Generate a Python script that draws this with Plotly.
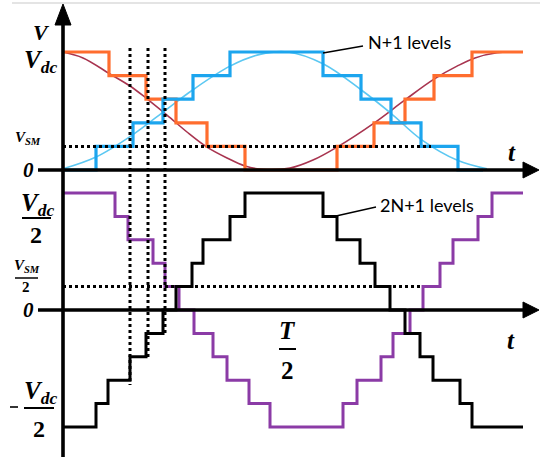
import plotly.graph_objects as go

W, H = 540, 460

# ---- data (time measured from the vertical axis, arbitrary units; T = 460) ----
# top panel: N+1 level waveforms (levels 0..5, Vdc = 5)
t_orange = [0, 46, 83, 113, 144, 182, 274, 311, 342, 371, 409, 460]
v_orange = [5, 4, 3, 2, 1, 0, 1, 2, 3, 4, 5, 5]
t_blue = [0, 33, 70, 100, 130, 167, 260, 298, 328, 358, 395, 420]
v_blue = [0, 1, 2, 3, 4, 5, 4, 3, 2, 1, 0, 0]
# reference sinusoids
t_red = [0, 20, 47, 67, 83, 104, 124, 144, 164, 182, 200, 227, 250, 274, 311, 342, 371, 394, 412, 434, 460]
v_red = [5.0, 4.75, 4.07, 3.56, 3.05, 2.33, 1.61, 0.97, 0.51, 0.17, 0.02, 0.08, 0.42, 0.97, 1.99, 2.97, 3.85, 4.4, 4.75, 4.97, 5.0]
t_lblue = [0, 33, 70, 100, 130, 167, 197, 225, 260, 298, 328, 358, 395, 424]
v_lblue = [0.05, 0.55, 1.5, 2.45, 3.4, 4.4, 4.9, 5.0, 4.5, 3.4, 2.4, 1.3, 0.4, 0.05]
# bottom panel: 2N+1 level waveforms (half-levels -5..5, Vdc/2 = 5)
t_black = [0, 33, 45, 67, 83, 100, 113, 129, 140, 167, 182, 260, 274, 297, 312, 327, 342, 357, 370, 397, 409, 460]
k_black = [-5, -4, -3, -2, -1, 0, 1, 2, 3, 4, 5, 4, 3, 2, 1, 0, -1, -2, -3, -4, -5, -5]
t_purple = [0, 52, 65, 90, 102, 116, 131, 150, 164, 186, 207, 280, 294, 318, 330, 347, 360, 377, 390, 415, 429, 460]
k_purple = [5, 4, 3, 2, 1, 0, -1, -2, -3, -4, -5, -4, -3, -2, -1, 0, 1, 2, 3, 4, 5, 5]
# guide lines
t_dotted = [67, 85, 102]
dotted_end_k = [-3.2, -2.1, -1.05]
vsm_top = 1
vsm_bottom = 1
t_vsm_top_end = 368
t_vsm_bottom_end = 360

ORANGE = "#FF6D2E"
BLUE = "#1CA5EE"
RED = "#A8344F"
LBLUE = "#5CC8F2"
PURPLE = "#8B3BA6"


def px(x):
    return x / W


def py(y):
    return 1 - y / H


fig = go.Figure()
fig.add_trace(go.Scatter(x=t_red, y=v_red, mode="lines", line=dict(color=RED, width=1.6, shape="spline", smoothing=1.0)))
fig.add_trace(go.Scatter(x=t_lblue, y=v_lblue, mode="lines", line=dict(color=LBLUE, width=1.6, shape="spline", smoothing=1.0)))
fig.add_trace(go.Scatter(x=t_orange, y=v_orange, mode="lines", line=dict(color=ORANGE, width=3.2, shape="hv")))
fig.add_trace(go.Scatter(x=t_blue, y=v_blue, mode="lines", line=dict(color=BLUE, width=3.2, shape="hv")))
fig.add_trace(go.Scatter(x=t_purple, y=k_purple, mode="lines", yaxis="y2", line=dict(color=PURPLE, width=3.0, shape="hv")))
fig.add_trace(go.Scatter(x=t_black, y=k_black, mode="lines", yaxis="y2", line=dict(color="black", width=3.0, shape="hv")))

shapes = []
# dotted guide lines
shapes.append(dict(type="line", xref="x", yref="y", x0=0, x1=t_vsm_top_end, y0=vsm_top, y1=vsm_top,
                   line=dict(color="black", width=3, dash="dot")))
shapes.append(dict(type="line", xref="x", yref="y2", x0=0, x1=t_vsm_bottom_end, y0=vsm_bottom, y1=vsm_bottom,
                   line=dict(color="black", width=3, dash="dot")))
for t, k in zip(t_dotted, dotted_end_k):
    y_end_px = 310 - k * 23.4
    shapes.append(dict(type="line", xref="x", yref="paper", x0=t, x1=t, y0=py(48), y1=py(y_end_px),
                       line=dict(color="black", width=3, dash="dot")))

# axes
AX = dict(color="black", width=3.6)
shapes.append(dict(type="line", xref="paper", yref="paper", x0=px(63), x1=px(63), y0=py(457), y1=py(20), line=AX))
for yy in (170, 310):
    shapes.append(dict(type="line", xref="paper", yref="paper", x0=px(38), x1=px(528), y0=py(yy), y1=py(yy), line=AX))
    shapes.append(dict(type="path", xref="paper", yref="paper",
                       path=f"M {px(539)},{py(yy)} L {px(523)},{py(yy-8)} L {px(523)},{py(yy+8)} Z",
                       fillcolor="black", line=dict(color="black", width=1)))
shapes.append(dict(type="path", xref="paper", yref="paper",
                   path=f"M {px(63)},{py(4)} L {px(55)},{py(25)} L {px(71)},{py(25)} Z",
                   fillcolor="black", line=dict(color="black", width=1)))
# top light border
shapes.append(dict(type="line", xref="paper", yref="paper", x0=px(12), x1=px(540), y0=py(3), y1=py(3),
                   line=dict(color="#e4e4e4", width=2)))
# leader lines
shapes.append(dict(type="line", xref="paper", yref="paper", x0=px(323), x1=px(363), y0=py(53), y1=py(46),
                   line=dict(color="black", width=1.3)))
shapes.append(dict(type="line", xref="paper", yref="paper", x0=px(336), x1=px(376), y0=py(216), y1=py(207),
                   line=dict(color="black", width=1.3)))
# fraction bars
for x0, x1, yy, w in [(22, 51, 218, 2), (15, 38, 278, 1.5), (24, 54, 408, 2), (279, 296, 349, 2)]:
    shapes.append(dict(type="line", xref="paper", yref="paper", x0=px(x0), x1=px(x1), y0=py(yy), y1=py(yy),
                       line=dict(color="black", width=w)))
# minus sign
shapes.append(dict(type="line", xref="paper", yref="paper", x0=px(10), x1=px(18), y0=py(407), y1=py(407),
                   line=dict(color="black", width=1.6)))

SERIF = "Liberation Serif"
SANS = "Lato"
ann = []


def label(x, y, text, size, family=SERIF, xanchor="center"):
    ann.append(dict(x=px(x), y=py(y), xref="paper", yref="paper", text=text, showarrow=False,
                    xanchor=xanchor, yanchor="middle", font=dict(family=family, size=size, color="black")))


label(41, 32, "<b><i>V</i></b>", 22)
label(40, 61, "<b><i>V<sub>dc</sub></i></b>", 25)
label(28, 138, "<b><i>V<sub>SM</sub></i></b>", 15)
label(28, 170, "<b><i>0</i></b>", 21)
label(512, 152, "<b><i>t</i></b>", 25)
label(366, 42, "N+1 levels", 18, SANS, xanchor="left")
label(378, 205, "2N+1 levels", 18, SANS, xanchor="left")
label(37, 204, "<b><i>V<sub>dc</sub></i></b>", 25)
label(36, 235, "<b>2</b>", 24)
label(27, 266, "<b><i>V<sub>SM</sub></i></b>", 15)
label(26, 287, "<b>2</b>", 15)
label(28, 310, "<b><i>0</i></b>", 21)
label(40, 392, "<b><i>V<sub>dc</sub></i></b>", 25)
label(39, 429, "<b>2</b>", 24)
label(287, 330, "<b><i>T</i></b>", 25)
label(287, 370, "<b>2</b>", 25)
label(511, 340, "<b><i>t</i></b>", 25)

fig.update_layout(
    width=W, height=H,
    margin=dict(l=0, r=0, t=0, b=0),
    paper_bgcolor="white", plot_bgcolor="rgba(0,0,0,0)",
    showlegend=False,
    xaxis=dict(range=[-63, 477], domain=[0, 1], visible=False, fixedrange=True),
    yaxis=dict(range=[-0.4237, 7.2034], domain=[1 - 180 / H, 1], visible=False, fixedrange=True),
    yaxis2=dict(range=[-6.4103, 5.5556], domain=[0, 1 - 180 / H], anchor="x", visible=False, fixedrange=True),
    shapes=shapes,
    annotations=ann,
)

fig.write_html("out.html", config={"displayModeBar": False})
with open("out.html", "r", encoding="utf-8") as f:
    html = f.read()
html = html.replace("<head>", "<head><style>html,body{margin:0;padding:0;overflow:hidden;}</style>", 1)
with open("out.html", "w", encoding="utf-8") as f:
    f.write(html)
